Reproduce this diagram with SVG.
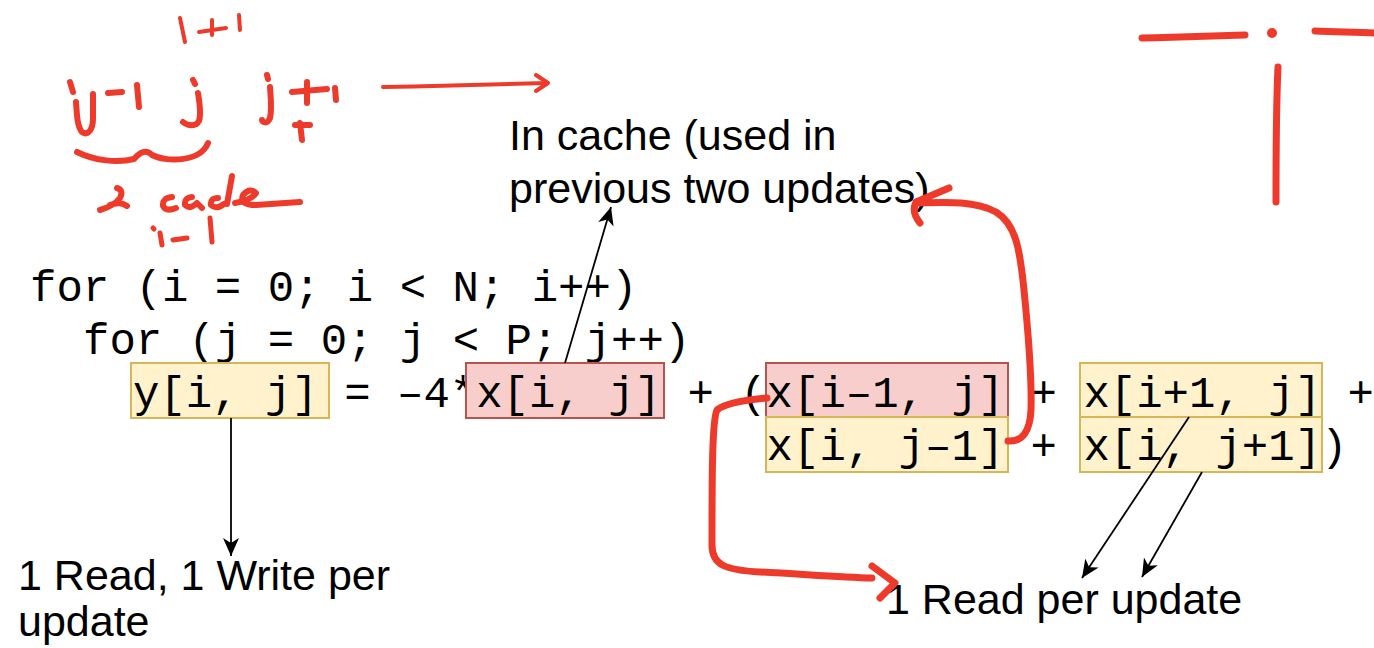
<svg xmlns="http://www.w3.org/2000/svg" width="1374" height="648" viewBox="0 0 1374 648">
<style>
.code{font-family:"Liberation Mono","DejaVu Sans Mono",monospace;font-size:44px;fill:#000}
.lbl{font-family:"Liberation Sans",Arial,sans-serif;font-size:43px;fill:#000}
.yel{fill:#FFF2CC;stroke:#D6B656;stroke-width:2}
.red{fill:#F8CECC;stroke:#B85450;stroke-width:2}
.conn{fill:none;stroke:#000;stroke-width:1.8}
.ink{fill:none;stroke:#EE3A2A;stroke-linecap:round;stroke-linejoin:round;stroke-width:6}
.ink2{fill:none;stroke:#EE3A2A;stroke-linecap:round;stroke-linejoin:round;stroke-width:7}
</style>
<defs>
<marker id="arr" markerUnits="userSpaceOnUse" markerWidth="20" markerHeight="18" refX="18" refY="8" orient="auto">
<path d="M0,0 L18,8 L0,16 L5,8 Z" fill="#000"/>
</marker>
</defs>
<rect width="1374" height="648" fill="#fff"/>

<g id="code-lines">
<text class="code" x="30" y="301">for (i = 0; i &lt; N; i++)</text>
<text class="code" x="83" y="354">for (j = 0; j &lt; P; j++)</text>
<text class="code" x="344.2" y="407">= –4*</text>
<text class="code" x="687.4" y="407">+ (</text>
<text class="code" x="1030.6" y="407">+</text>
<text class="code" x="1347.4" y="407">+</text>
<text class="code" x="1030.6" y="460">+</text>
<text class="code" x="1321" y="460">)</text>
</g>

<g id="node-y-ij">
<rect class="yel" x="131" y="363" width="198" height="55"/>
<text class="code" x="133" y="407">y[i, j]</text>
</g>
<g id="node-x-ij">
<rect class="red" x="466" y="363" width="198" height="55"/>
<text class="code" x="476.2" y="407">x[i, j]</text>
</g>
<g id="node-x-im1-j">
<rect class="red" x="766" y="363" width="242" height="54"/>
<text class="code" x="766.6" y="407">x[i–1, j]</text>
</g>
<g id="node-x-i-jm1">
<rect class="yel" x="766" y="417" width="242" height="55"/>
<text class="code" x="766.6" y="460">x[i, j–1]</text>
</g>
<g id="node-x-ip1-j">
<rect class="yel" x="1080" y="363" width="242" height="54"/>
<text class="code" x="1083.4" y="407">x[i+1, j]</text>
</g>
<g id="node-x-i-jp1">
<rect class="yel" x="1080" y="417" width="242" height="55"/>
<text class="code" x="1083.4" y="460">x[i, j+1]</text>
</g>

<g id="label-cache">
<text class="lbl" x="509" y="150">In cache (used in</text>
<text class="lbl" x="509" y="203">previous two updates)</text>
</g>
<g id="label-rw">
<text class="lbl" x="18" y="590">1 Read, 1 Write per</text>
<text class="lbl" x="18" y="636">update</text>
</g>
<g id="label-read">
<text class="lbl" x="886" y="614">1 Read per update</text>
</g>

<g id="connectors">
<line class="conn" x1="565" y1="363" x2="611" y2="207" marker-end="url(#arr)"/>
<line class="conn" x1="231" y1="418" x2="231" y2="556" marker-end="url(#arr)"/>
<line class="conn" x1="1189" y1="417" x2="1082" y2="578" marker-end="url(#arr)"/>
<line class="conn" x1="1202" y1="472" x2="1142" y2="577" marker-end="url(#arr)"/>
</g>

<g id="red-ink">
<path class="ink" d="M180,18 L185,42 M199,32 L226,28 M212,20 L212,35 M239,15 L240,30" style="stroke-width:4"/>
<path class="ink" d="M70,82 L73,92 M76,102 C77,115 77,126 82,132 C88,136 93,130 93,118 L93,94 M108,93 L122,92 M137,85 L139,107"/>
<path class="ink" d="M193,80 L195,84 M198,93 C200,105 201,115 199,121 C196,127 188,126 183,122"/>
<path class="ink" d="M267,75 L268,79 M270,87 C271,100 272,110 270,118 C267,125 262,122 262,120 M292,92 L327,89 M307,82 L307,103 M335,88 L336,100 M300,123 L302,140 M295,125 L310,125"/>
<path class="ink" d="M383,87 C440,86 500,84 546,83 M536,75 L548,83 L536,91" style="stroke-width:4"/>
<path class="ink" d="M77,152 C95,161 118,163 134,159 C140,152 146,149 152,155 C165,162 200,163 208,143"/>
<path class="ink" d="M117,188 Q124,190 120,198 Q114,206 100,210 M110,205 Q120,201 127,206"/>
<path class="ink" d="M172,197 Q162,198 163,206 Q166,212 176,208 M192,197 Q184,198 185,205 Q190,210 197,203 L202,208 M218,198 Q210,198 211,205 Q216,210 224,204 M232,176 L227,204 M235,203 Q252,200 256,193 Q250,187 243,195 Q239,205 256,205 L300,202"/>
<path class="ink" d="M153,228 L154,229 M160,233 L162,245 M173,240 L187,238 M210,218 L212,242" style="stroke-width:5"/>
<path class="ink2" d="M1142,38 C1180,37 1220,36 1245,35 M1315,31 C1340,32 1360,32 1374,33 M1278,67 C1276,110 1276,160 1276,202"/>
<circle cx="1272" cy="33" r="5" fill="#EE3A2A"/>
<path class="ink2" d="M1008,441 C1022,442 1030,432 1031,410 C1032,375 1028,330 1024,290 C1020,250 1016,224 996,212 C976,201 948,202 918,203 M949,188 L916,202 Q911,212 920,223"/>
<path class="ink2" d="M767,398 C745,400 725,403 717,410 C712,420 712,480 712,545 C712,565 725,570 760,572 C800,574 840,577 872,578 M872,566 L895,583 L880,598"/>
</g>
</svg>
